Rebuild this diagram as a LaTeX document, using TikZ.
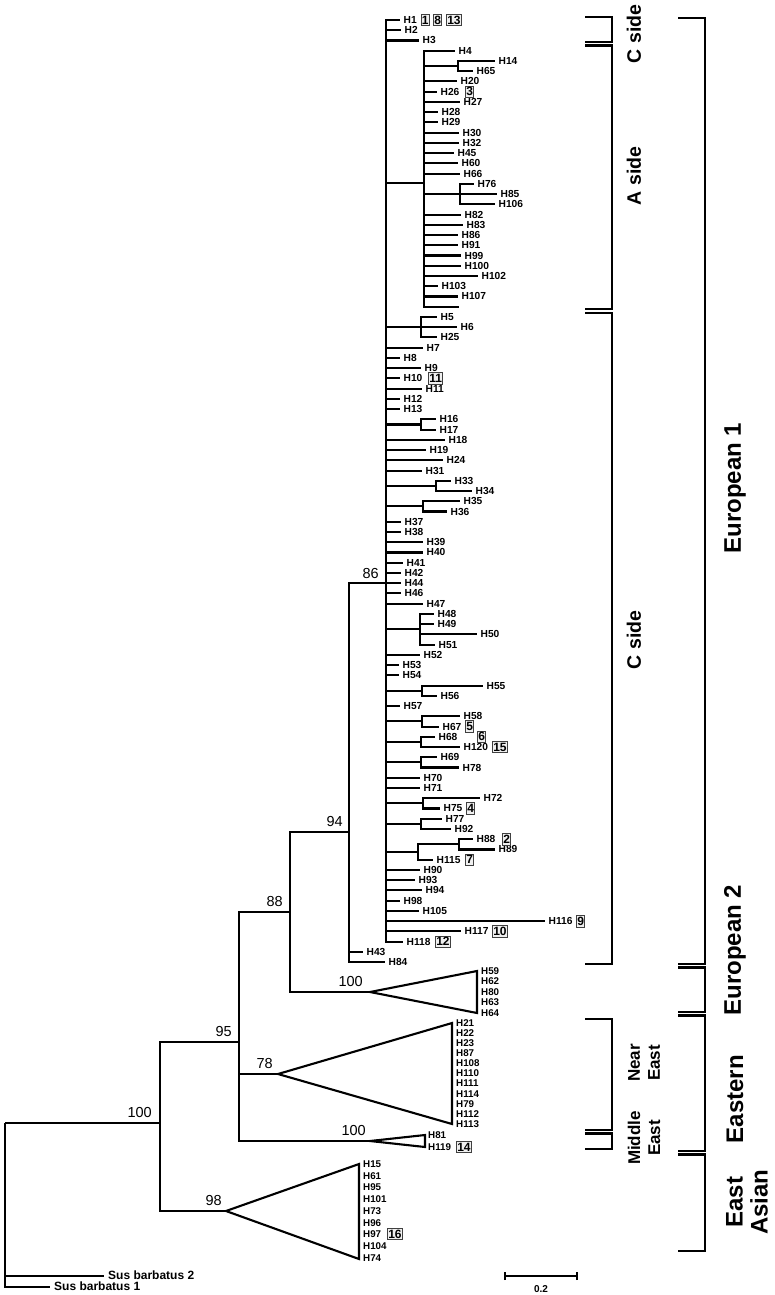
\documentclass[tikz,border=0pt]{standalone}
\usepackage{fontspec}
\setmainfont{Liberation Sans}
\newcommand\rowy[1]{20+(#1-1)*10.24}
\newcommand\tleaf[4]{%
  \coordinate (t#4) at (#2,{\rowy{#3}});
  \node[lf,anchor=west] (n#4) at ([xshift=3.5pt]t#4) {#4};
  \draw[br] (#1) |- (t#4);}
\newcommand\nbox[4]{\node[bx,anchor=west] (b#1) at (#2,{\rowy{#3}}) {#4};}
\begin{document}
\begin{tikzpicture}[x=1pt,y=-1pt,
  br/.style={line width=2.1pt},
  bk/.style={line width=2.6pt},
  lf/.style={inner sep=0pt,font=\bfseries\fontsize{10.2}{10.2}\selectfont},
  tf/.style={inner sep=0pt,anchor=west,font=\bfseries\fontsize{9.8}{9.8}\selectfont},
  bx/.style={draw=black!75,fill=gray!12,line width=0.7pt,inner sep=0.9pt,minimum height=11.5pt,font=\bfseries\fontsize{12}{12}\selectfont},
  bs/.style={inner sep=0pt,anchor=south east,font=\fontsize{14.5}{14.5}\selectfont},
  sl/.style={inner sep=0pt,rotate=90,align=center,font=\bfseries\fontsize{19.5}{21}\selectfont},
  sm/.style={inner sep=0pt,rotate=90,align=center,font=\bfseries\fontsize{17}{20}\selectfont},
  bl/.style={inner sep=0pt,rotate=90,align=center,font=\bfseries\fontsize{24}{25}\selectfont},
  ]
\useasboundingbox (0,0) rectangle (774,1295);
% ---- internal nodes
\coordinate (U) at (5,1123);
\coordinate (T) at (160,1123);
\coordinate (S) at (239,1042);
\coordinate (R) at (290,912);
\coordinate (Q) at (349,832);
\coordinate (P) at (386,{\rowy{56}});
\coordinate (A) at (424,183);
\coordinate (s1) at (458,{\rowy{5.5}});
\coordinate (s2) at (460,{\rowy{18}});
\coordinate (s3) at (421,{\rowy{31}});
\coordinate (s4) at (421,{\rowy{40.5}});
\coordinate (s5) at (436,{\rowy{46.5}});
\coordinate (s6) at (423,{\rowy{48.5}});
\coordinate (s7) at (420,{\rowy{60.5}});
\coordinate (s8) at (422,{\rowy{66.5}});
\coordinate (s9) at (422,{\rowy{69.5}});
\coordinate (s10) at (421,{\rowy{71.5}});
\coordinate (s11) at (421,{\rowy{73.5}});
\coordinate (s12) at (423,{\rowy{77.5}});
\coordinate (s13) at (421,{\rowy{79.5}});
\coordinate (s14) at (418,852);
\coordinate (s15) at (459,{\rowy{81.5}});
% ---- internal edges
\draw[br] (U) |- (T);
\draw[br] (T) |- (S);
\draw[br] (S) |- (R);
\draw[br] (R) |- (Q);
\draw[br] (Q) |- (P);
\draw[br] (P) |- (A);
\foreach \c in {s3,s4,s5,s6,s7,s8,s9,s10,s11,s12,s13,s14} {\draw[br] (P) |- (\c);}
\draw[br] (A) |- (s1);
\draw[br] (A) |- (s2);
\draw[br] (s14) |- (s15);
% ---- leaves
\tleaf{P}{400}{1}{H1}
\tleaf{P}{401}{2}{H2}
\tleaf{P}{419}{3}{H3}
\tleaf{A}{455}{4}{H4}
\tleaf{s1}{495}{5}{H14}
\tleaf{s1}{473}{6}{H65}
\tleaf{A}{457}{7}{H20}
\tleaf{A}{437}{8}{H26}
\tleaf{A}{460}{9}{H27}
\tleaf{A}{438}{10}{H28}
\tleaf{A}{438}{11}{H29}
\tleaf{A}{459}{12}{H30}
\tleaf{A}{459}{13}{H32}
\tleaf{A}{454}{14}{H45}
\tleaf{A}{458}{15}{H60}
\tleaf{A}{460}{16}{H66}
\tleaf{s2}{474}{17}{H76}
\tleaf{s2}{497}{18}{H85}
\tleaf{s2}{495}{19}{H106}
\tleaf{A}{461}{20}{H82}
\tleaf{A}{463}{21}{H83}
\tleaf{A}{458}{22}{H86}
\tleaf{A}{458}{23}{H91}
\tleaf{A}{461}{24}{H99}
\tleaf{A}{461}{25}{H100}
\tleaf{A}{478}{26}{H102}
\tleaf{A}{438}{27}{H103}
\tleaf{A}{458}{28}{H107}
\coordinate (tblank) at (459,{\rowy{29}});
\draw[br] (A) |- (tblank);
\tleaf{s3}{437}{30}{H5}
\tleaf{s3}{457}{31}{H6}
\tleaf{s3}{437}{32}{H25}
\tleaf{P}{423}{33}{H7}
\tleaf{P}{400}{34}{H8}
\tleaf{P}{421}{35}{H9}
\tleaf{P}{400}{36}{H10}
\tleaf{P}{422}{37}{H11}
\tleaf{P}{400}{38}{H12}
\tleaf{P}{400}{39}{H13}
\tleaf{s4}{436}{40}{H16}
\tleaf{s4}{436}{41}{H17}
\tleaf{P}{445}{42}{H18}
\tleaf{P}{426}{43}{H19}
\tleaf{P}{443}{44}{H24}
\tleaf{P}{422}{45}{H31}
\tleaf{s5}{451}{46}{H33}
\tleaf{s5}{472}{47}{H34}
\tleaf{s6}{460}{48}{H35}
\tleaf{s6}{447}{49}{H36}
\tleaf{P}{401}{50}{H37}
\tleaf{P}{401}{51}{H38}
\tleaf{P}{423}{52}{H39}
\tleaf{P}{423}{53}{H40}
\tleaf{P}{403}{54}{H41}
\tleaf{P}{401}{55}{H42}
\tleaf{P}{401}{56}{H44}
\tleaf{P}{401}{57}{H46}
\tleaf{P}{423}{58}{H47}
\tleaf{s7}{434}{59}{H48}
\tleaf{s7}{434}{60}{H49}
\tleaf{s7}{477}{61}{H50}
\tleaf{s7}{435}{62}{H51}
\tleaf{P}{420}{63}{H52}
\tleaf{P}{399}{64}{H53}
\tleaf{P}{399}{65}{H54}
\tleaf{s8}{483}{66}{H55}
\tleaf{s8}{437}{67}{H56}
\tleaf{P}{400}{68}{H57}
\tleaf{s9}{460}{69}{H58}
\tleaf{s9}{439}{70}{H67}
\tleaf{s10}{435}{71}{H68}
\tleaf{s10}{460}{72}{H120}
\tleaf{s11}{437}{73}{H69}
\tleaf{s11}{459}{74}{H78}
\tleaf{P}{420}{75}{H70}
\tleaf{P}{420}{76}{H71}
\tleaf{s12}{480}{77}{H72}
\tleaf{s12}{440}{78}{H75}
\tleaf{s13}{442}{79}{H77}
\tleaf{s13}{451}{80}{H92}
\tleaf{s15}{473}{81}{H88}
\tleaf{s15}{495}{82}{H89}
\tleaf{s14}{433}{83}{H115}
\tleaf{P}{420}{84}{H90}
\tleaf{P}{415}{85}{H93}
\tleaf{P}{422}{86}{H94}
\tleaf{P}{400}{87}{H98}
\tleaf{P}{419}{88}{H105}
\tleaf{P}{545}{89}{H116}
\tleaf{P}{461}{90}{H117}
\tleaf{P}{403}{91}{H118}
\tleaf{Q}{363}{92}{H43}
\tleaf{Q}{385}{93}{H84}
% ---- boxes
\nbox{1}{420.5}{1}{1}
\nbox{8}{433}{1}{8}
\nbox{13}{446}{1}{13}
\nbox{3}{465}{8}{3}
\nbox{11}{428}{36}{11}
\nbox{5}{465}{70}{5}
\nbox{6}{477}{71}{6}
\nbox{15}{492}{72}{15}
\nbox{4}{466}{78}{4}
\nbox{2}{502}{81}{2}
\nbox{7}{465}{83}{7}
\nbox{9}{576}{89}{9}
\nbox{10}{492}{90}{10}
\nbox{12}{435}{91}{12}
% ---- collapsed clades
\coordinate (E2a) at (370,992);
\coordinate (E2t) at (477,971);
\coordinate (E2b) at (477,1013);
\draw[br] (R) |- (E2a);
\draw[br] (E2a) -- (E2t) -- (E2b) -- cycle;
\foreach \l [count=\i from 0] in {H59,H62,H80,H63,H64}
  {\node[tf] (n\l) at (481,{971+\i*10.5}) {\l};}
\coordinate (NEa) at (278,1074);
\coordinate (NEt) at (452,1023);
\coordinate (NEb) at (452,1124);
\draw[br] (S) |- (NEa);
\draw[br] (NEa) -- (NEt) -- (NEb) -- cycle;
\foreach \l [count=\i from 0] in {H21,H22,H23,H87,H108,H110,H111,H114,H79,H112,H113}
  {\node[tf] (n\l) at (456,{1023+\i*10.1}) {\l};}
\coordinate (MEa) at (370,1141);
\coordinate (MEt) at (425,1135);
\coordinate (MEb) at (425,1147);
\draw[br] (S) |- (MEa);
\draw[br] (MEa) -- (MEt) -- (MEb) -- cycle;
\node[tf] (nH81) at (428,1135) {H81};
\node[tf] (nH119) at (428,1147) {H119};
\node[bx,anchor=west] (b14) at (456,1147) {14};
\coordinate (EAa) at (226,1211);
\coordinate (EAt) at (359,1164);
\coordinate (EAb) at (359,1259);
\draw[br] (T) |- (EAa);
\draw[br] (EAa) -- (EAt) -- (EAb) -- cycle;
\foreach \l [count=\i from 0] in {H15,H61,H95,H101,H73,H96,H97,H104,H74}
  {\node[tf] (n\l) at (363,{1164+\i*11.75}) {\l};}
\node[bx,anchor=west] (b16) at (387,1234) {16};
% ---- outgroup
\coordinate (tSB2) at (104,1276);
\coordinate (tSB1) at (50,1287);
\draw[br] (U) |- (tSB2);
\draw[br] (U) |- (tSB1);
\node[inner sep=0pt,anchor=west,font=\bfseries\fontsize{12}{12}\selectfont] (nSB2) at (108,1275) {Sus barbatus 2};
\node[inner sep=0pt,anchor=west,font=\bfseries\fontsize{12}{12}\selectfont] (nSB1) at (54,1286) {Sus barbatus 1};
% ---- bootstrap values
\node[bs] (v86) at (379,578.5) {86};
\node[bs] (v94) at (343,827) {94};
\node[bs] (v88) at (283,907) {88};
\node[bs] (v95) at (232,1037) {95};
\node[bs] (v100a) at (152,1118) {100};
\node[bs] (v98) at (222,1206) {98};
\node[bs] (v78) at (273,1069) {78};
\node[bs] (v100b) at (363,987) {100};
\node[bs] (v100c) at (366,1136) {100};
% ---- scale bar
\coordinate (sbl) at (505,1276);
\coordinate (sbr) at (577,1276);
\draw[line width=1.6pt] (sbl) -- (sbr);
\draw[line width=1.6pt] ([yshift=-4pt]sbl) -- ([yshift=4pt]sbl);
\draw[line width=1.6pt] ([yshift=-4pt]sbr) -- ([yshift=4pt]sbr);
\node[inner sep=0pt,font=\bfseries\fontsize{10}{10}\selectfont] (sbt) at (541,1289) {0.2};
% ---- small brackets
\draw[bk] (585,17) -- (612,17) -- (612,42) -- (585,42);
\draw[bk] (585,45.5) -- (612,45.5) -- (612,309) -- (585,309);
\draw[bk] (585,313) -- (612,313) -- (612,964) -- (585,964);
\draw[bk] (585,1019) -- (612,1019) -- (612,1130) -- (585,1130);
\draw[bk] (585,1133.5) -- (612,1133.5) -- (612,1149) -- (585,1149);
% ---- big brackets
\draw[bk] (678,18) -- (705,18) -- (705,964) -- (678,964);
\draw[bk] (678,967.5) -- (705,967.5) -- (705,1012) -- (678,1012);
\draw[bk] (678,1015.5) -- (705,1015.5) -- (705,1151) -- (678,1151);
\draw[bk] (678,1154.5) -- (705,1154.5) -- (705,1251) -- (678,1251);
% ---- bracket labels
\node[sl] (lC1) at (634,34) {C side};
\node[sl] (lA) at (634,176) {A side};
\node[sl] (lC2) at (634,640) {C side};
\node[sm] (lNE) at (644,1063) {Near\\East};
\node[sm] (lME) at (644,1138) {Middle\\East};
\node[bl] (lE1) at (735,488) {European 1};
\node[bl] (lE2) at (735,950) {European 2};
\node[bl] (lEa) at (735,1099) {Eastern};
\node[bl] (lEA) at (747,1202) {East\\Asian};
\end{tikzpicture}
\end{document}
